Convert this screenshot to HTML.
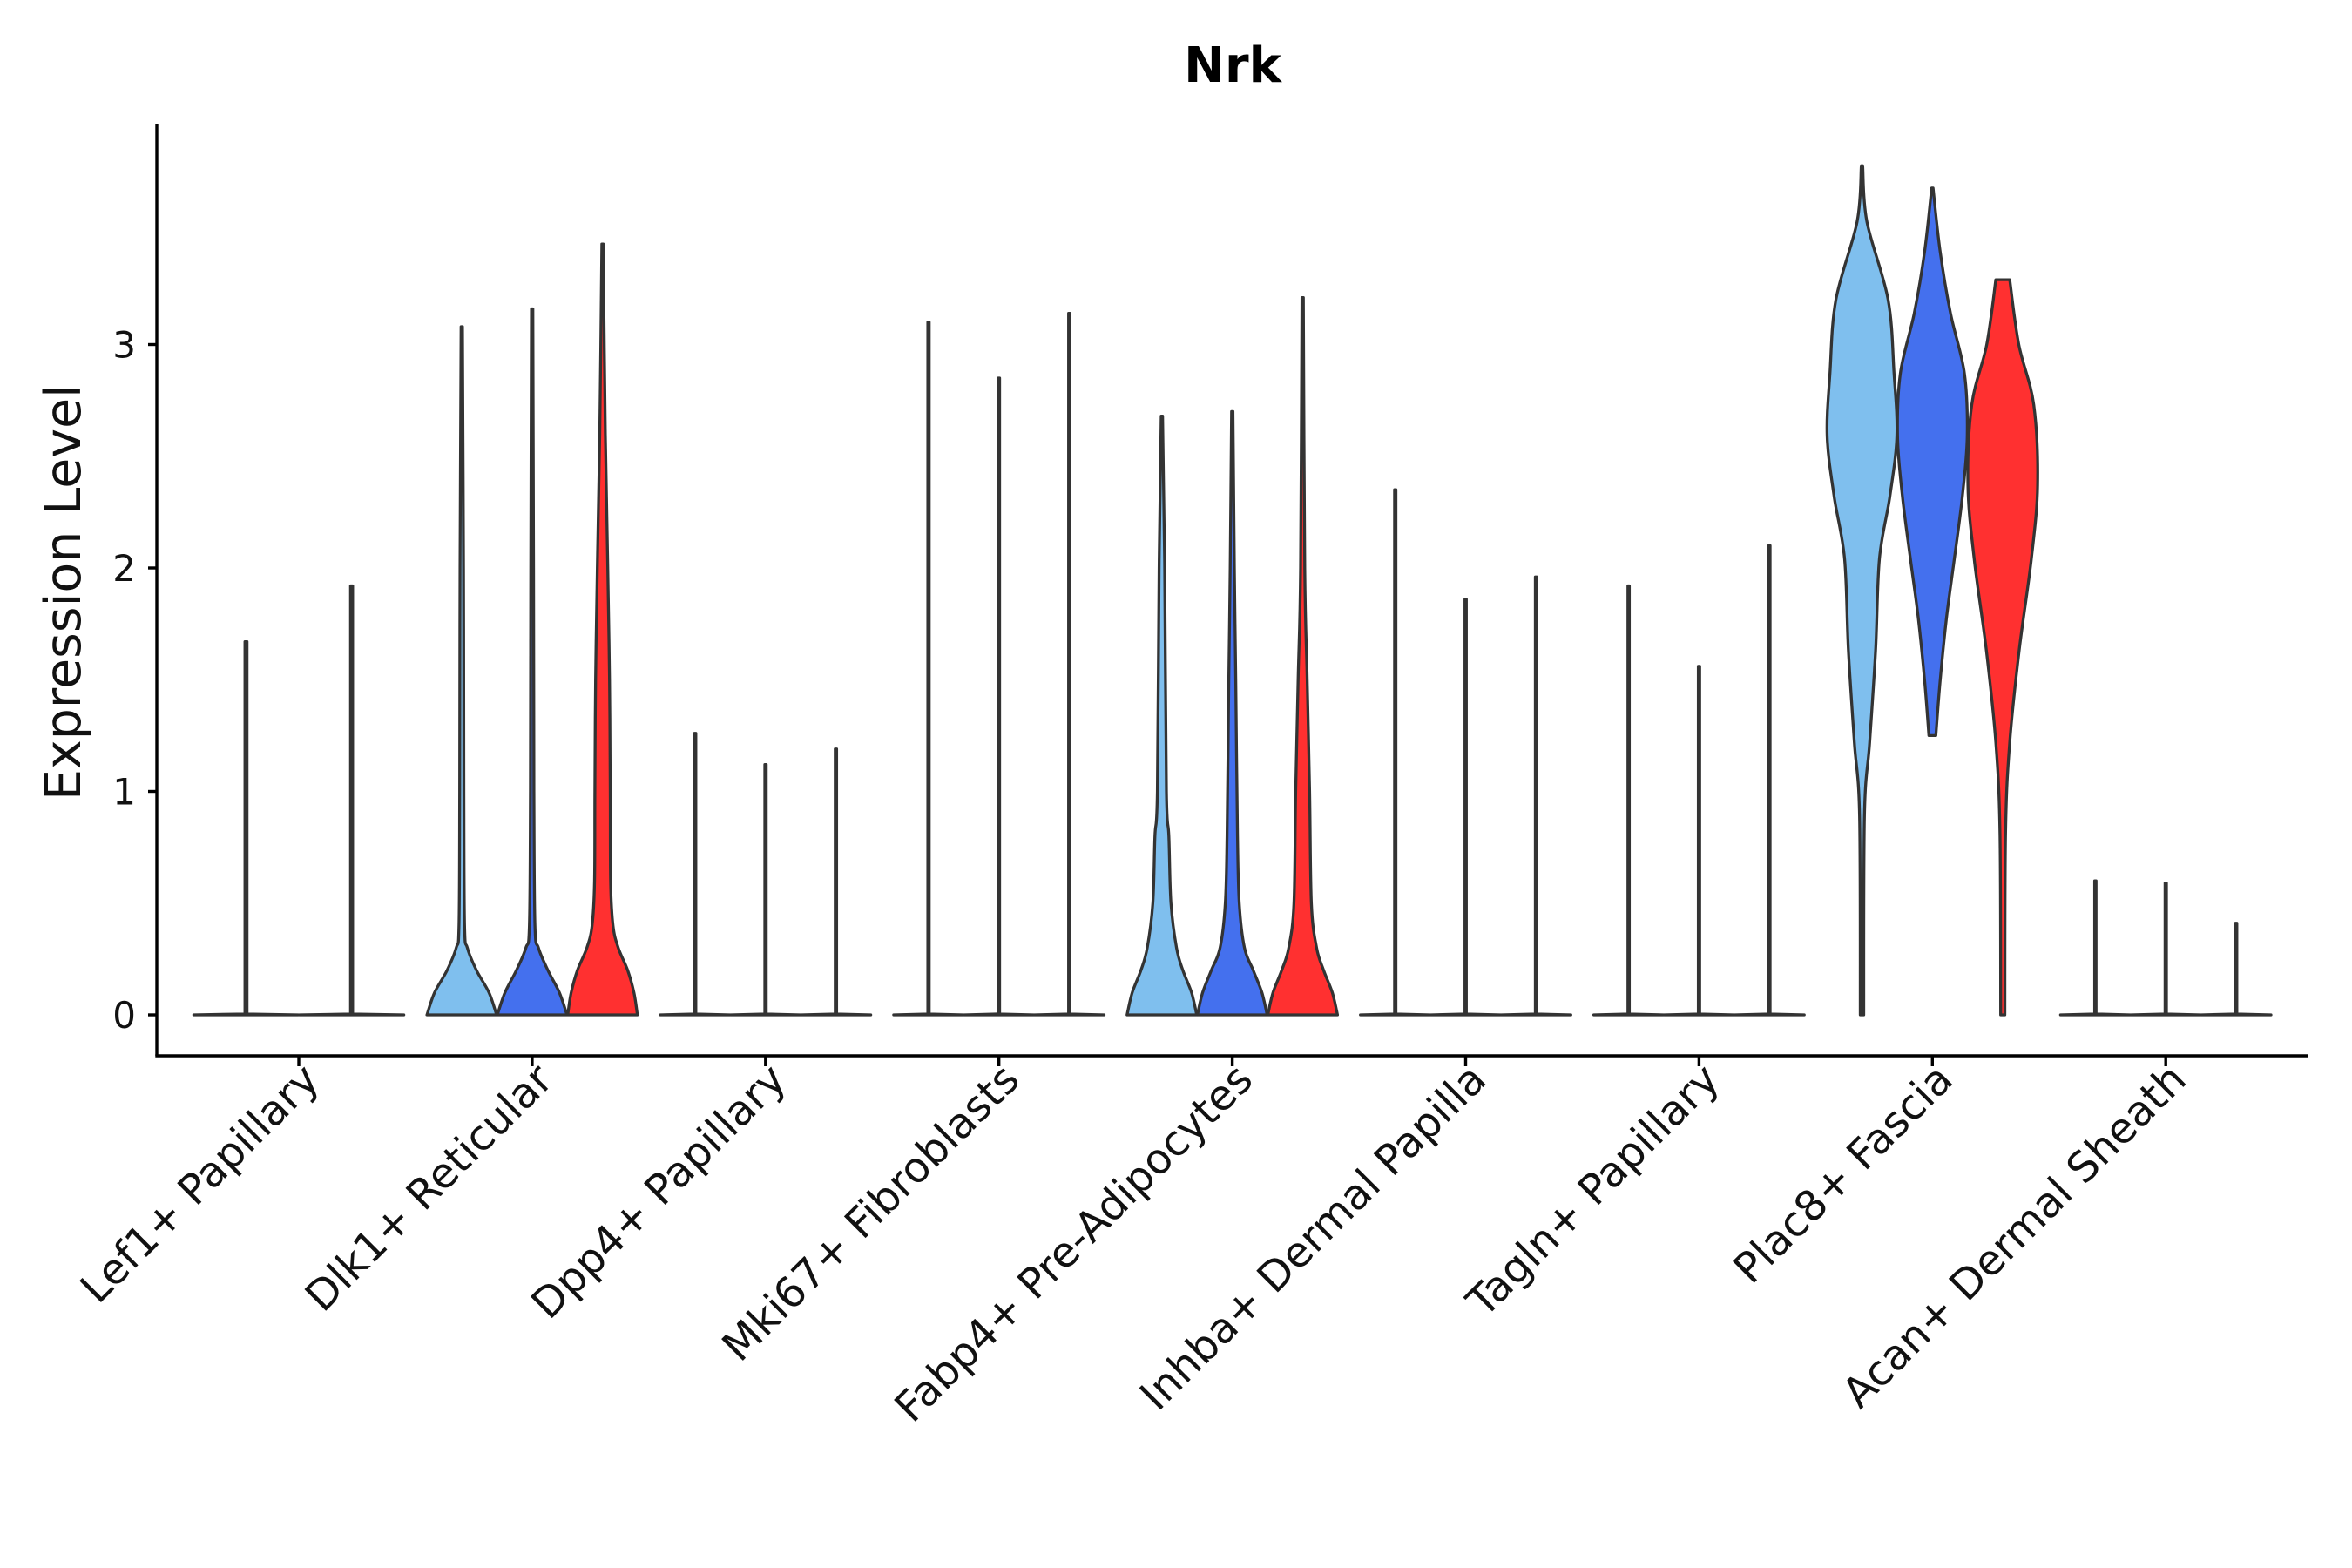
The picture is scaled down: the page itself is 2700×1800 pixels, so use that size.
<!DOCTYPE html>
<html><head><meta charset="utf-8"><style>
html,body{margin:0;padding:0;background:#fff;}
svg{display:block;font-family:"Liberation Sans","DejaVu Sans",sans-serif;}
</style></head><body>
<svg id="chart" width="2700" height="1800" viewBox="0 0 2700 1800" xmlns="http://www.w3.org/2000/svg">
<text x="1415" y="94" text-anchor="middle" font-size="56" font-weight="bold" font-family="DejaVu Sans, sans-serif">Nrk</text>
<text transform="translate(92,680) rotate(-90)" text-anchor="middle" font-size="57" fill="#111" font-family="DejaVu Sans, sans-serif">Expression Level</text>
<g id="plot"></g>
</svg>
<script>
const categories = ["Lef1+ Papillary","Dlk1+ Reticular","Dpp4+ Papillary","Mki67+ Fibroblasts","Fabp4+ Pre-Adipocytes","Inhba+ Dermal Papilla","Tagln+ Papillary","Plac8+ Fascia","Acan+ Dermal Sheath"];
const groupColors = ["#7FBFEE","#4470EE","#FF3030"];
const yTicks = [0,1,2,3];
// spike maxima for sparse violins [category][group]; null means dense profile
const spikeMax = [
 [1.67,1.92],
 [null,null,null],
 [1.26,1.12,1.19],
 [3.10,2.85,3.14],
 [null,null,null],
 [2.35,1.86,1.96],
 [1.92,1.56,2.10],
 [null,null,null],
 [0.60,0.59,0.41]
];
const lef1Colors = ["#7FBFEE","#FF3030"];
const dlk1Levels = [[0,0.1,0.2,0.3,0.4,1,2,3.08],[0,0.1,0.2,0.3,0.4,1,2,3.16],[0,0.1,0.2,0.3,0.4,0.6,1,1.5,2,2.6,3.45]];
const dlk1Widths = [[1,0.78,0.42,0.16,0.08,0.06,0.05,0],[1,0.78,0.45,0.18,0.08,0.05,0.04,0],[1,0.9,0.72,0.45,0.3,0.23,0.22,0.2,0.15,0.08,0]];
const fabp4Levels = [[0,0.1,0.2,0.3,0.5,0.8,1,2,2.68],[0,0.1,0.2,0.3,0.5,0.8,1.5,2,2.70],[0,0.1,0.2,0.3,0.5,1,1.5,2,3.21]];
const fabp4Widths = [[1,0.85,0.6,0.42,0.26,0.2,0.13,0.08,0],[1,0.85,0.6,0.35,0.2,0.15,0.1,0.06,0],[1,0.85,0.6,0.4,0.25,0.2,0.13,0.06,0]];
const plac8Levels = [[0,0.89,1.22,1.63,2.04,2.32,2.59,2.87,3.20,3.55,3.80],[1.25,1.49,1.77,2.04,2.32,2.59,2.87,3.14,3.42,3.70],[0,0.81,1.22,1.63,2.04,2.37,2.73,3.0,3.29]];
const plac8Widths = [[0.05,0.07,0.22,0.39,0.5,0.8,1.0,0.92,0.75,0.14,0],[0.1,0.22,0.4,0.63,0.86,1.0,0.92,0.52,0.22,0],[0.06,0.08,0.2,0.47,0.82,1.0,0.89,0.46,0.2]];
const denseLevels = {1:dlk1Levels,4:fabp4Levels,7:plac8Levels};
const denseWidths = {1:dlk1Widths,4:fabp4Widths,7:plac8Widths};

const NS="http://www.w3.org/2000/svg";
const X0=180,X1=2650,YT=142,YB=1212;
const Y0=1165,PU=256.5;
const catX0=343,catStep=267.9;
function yScale(v){return Y0-v*PU;}
function xCat(i){return catX0+i*catStep;}
const plot=document.getElementById('plot');
function mk(tag,attrs){const e=document.createElementNS(NS,tag);for(const k in attrs)e.setAttribute(k,attrs[k]);plot.appendChild(e);return e;}

function spline(pts){
  let s='';
  for(let k=0;k<pts.length-1;k++){
    const p0=pts[Math.max(k-1,0)],p1=pts[k],p2=pts[k+1],p3=pts[Math.min(k+2,pts.length-1)];
    const c1=[p1[0]+(p2[0]-p0[0])/6,p1[1]+(p2[1]-p0[1])/6];
    const c2=[p2[0]-(p3[0]-p1[0])/6,p2[1]-(p3[1]-p1[1])/6];
    s+=' C'+c1[0].toFixed(1)+','+c1[1].toFixed(1)+' '+c2[0].toFixed(1)+','+c2[1].toFixed(1)+' '+p2[0].toFixed(1)+','+p2[1].toFixed(1);
  }
  return s;
}
function violinPath(cx,hw,levels,widths,smooth){
  const right=[],left=[];
  for(let k=0;k<levels.length;k++){
    const y=yScale(levels[k]);const w=Math.max(widths[k]*hw,0.8);
    right.push([cx+w,y]);left.unshift([cx-w,y]);
  }
  if(!smooth){
    return 'M'+right.map(p=>p[0].toFixed(1)+','+p[1].toFixed(1)).join(' L')+' L'+left.map(p=>p[0].toFixed(1)+','+p[1].toFixed(1)).join(' L')+' Z';
  }
  return 'M'+right[0][0].toFixed(1)+','+right[0][1].toFixed(1)+spline(right)+' L'+left[0][0].toFixed(1)+','+left[0][1].toFixed(1)+spline(left)+' Z';
}

for(let i=0;i<categories.length;i++){
  const n=spikeMax[i].length;
  const off=n===3?80.8:121.2;
  const hw=n===3?40:60;
  for(let g=0;g<n;g++){
    const cx=xCat(i)+(g-(n-1)/2)*off;
    const color=n===3?groupColors[g]:lef1Colors[g];
    let levels,widths,smooth;
    if(spikeMax[i][g]===null){levels=denseLevels[i][g];widths=denseWidths[i][g];smooth=true;}
    else{const m=spikeMax[i][g];levels=[0,0.004,m];widths=[1,0.02,0.02];smooth=false;}
    const p=mk('path',{d:violinPath(cx,hw,levels,widths,smooth),fill:color,stroke:'#333','stroke-width':3.3,'stroke-linejoin':'round'});
    
    
  }
}
const ya=mk('line',{x1:X0,y1:YT,x2:X0,y2:YB,stroke:'#000','stroke-width':3.4});


const xa=mk('line',{x1:X0-1.7,y1:YB,x2:X1,y2:YB,stroke:'#000','stroke-width':3.4});


for(const t of yTicks){
  const y=yScale(t);
  const tk=mk('line',{x1:X0-10,y1:y,x2:X0,y2:y,stroke:'#000','stroke-width':3.4});
  
  
  const tx=mk('text',{x:X0-24,y:y+15,'text-anchor':'end','font-size':42,fill:'#111','font-family':'DejaVu Sans, sans-serif'});
  tx.textContent=String(t);
  
  
}
for(let i=0;i<categories.length;i++){
  const x=xCat(i);
  const tk=mk('line',{x1:x,y1:YB,x2:x,y2:YB+12,stroke:'#000','stroke-width':3.4});
  
  
  const tx=mk('text',{transform:'translate('+(x+26)+','+(YB+30)+') rotate(-45)','text-anchor':'end','font-size':48,fill:'#111','font-family':'DejaVu Sans, sans-serif'});
  tx.textContent=categories[i];
  
  
}
</script>
</body></html>
